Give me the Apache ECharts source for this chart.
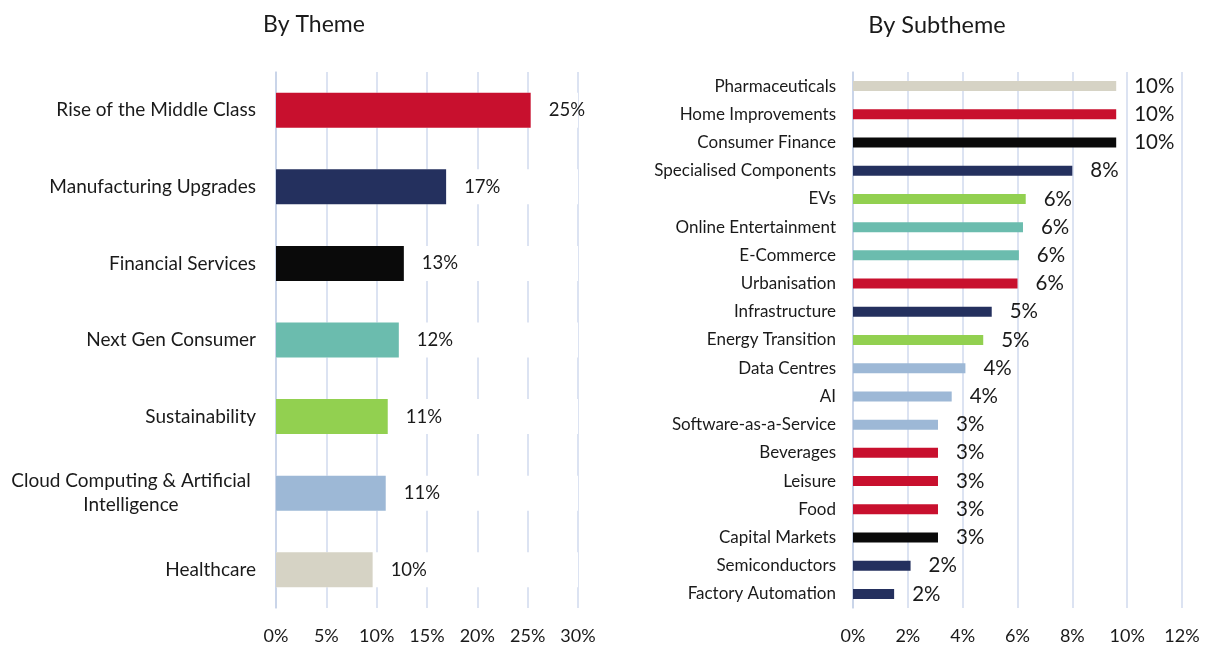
<!DOCTYPE html>
<html>
<head>
<meta charset="utf-8">
<script src="https://cdn.jsdelivr.net/npm/echarts@6/dist/echarts.min.js"></script>
<style>
  html, body { margin: 0; padding: 0; background: #fff; }
  #chart { width: 1205px; height: 645px; }
</style>
</head>
<body>
<div id="chart"></div>
<script>
// colours used by both charts
const RED = '#C8102E'
const NAVY = '#24305E'
const BLACK = '#0A0A0A'
const TEAL = '#6BBCAE'
const GREEN = '#92D050'
const LIGHTBLUE = '#9DB8D6'
const BEIGE = '#D6D3C5'

// left chart: by theme
const themeNames = ['Rise of the Middle Class', 'Manufacturing Upgrades', 'Financial Services',
  'Next Gen Consumer', 'Sustainability', 'Cloud Computing & Artificial Intelligence', 'Healthcare']
const themeValues = [25.3, 16.9, 12.7, 12.2, 11.1, 10.9, 9.6]
const themeColors = [RED, NAVY, BLACK, TEAL, GREEN, LIGHTBLUE, BEIGE]
const themeTicks = { min: 0, max: 30, interval: 5 }

// right chart: by subtheme
const subNames = ['Pharmaceuticals', 'Home Improvements', 'Consumer Finance', 'Specialised Components',
  'EVs', 'Online Entertainment', 'E-Commerce', 'Urbanisation', 'Infrastructure', 'Energy Transition',
  'Data Centres', 'AI', 'Software-as-a-Service', 'Beverages', 'Leisure', 'Food', 'Capital Markets',
  'Semiconductors', 'Factory Automation']
const subValues = [9.6, 9.6, 9.6, 8.0, 6.3, 6.2, 6.05, 6.0, 5.06, 4.75, 4.1, 3.6, 3.1, 3.1, 3.1, 3.1, 3.1, 2.1, 1.5]
const subColors = [BEIGE, RED, BLACK, NAVY, GREEN, TEAL, TEAL, RED, NAVY, GREEN,
  LIGHTBLUE, LIGHTBLUE, LIGHTBLUE, RED, RED, RED, BLACK, NAVY, NAVY]
const subTicks = { min: 0, max: 12, interval: 2 }

const FONT = 'Lato'
const TEXT = '#1a1a1a'
const GRIDLINE = '#D0DAEE'

const myChart = echarts.init(document.getElementById('chart'))

const option = {
  animation: false,
  title: [
    { text: 'By Theme', left: 309, top: 8, textAlign: 'center',
      textStyle: { fontFamily: FONT, fontSize: 23, fontWeight: 'normal', color: TEXT } },
    { text: 'By Subtheme', left: 932, top: 8, textAlign: 'center',
      textStyle: { fontFamily: FONT, fontSize: 23.5, fontWeight: 'normal', color: TEXT } },
  ],
  grid: [
    { left: 276, top: 72, width: 302, height: 536 },
    { left: 853, top: 72, width: 329, height: 536 },
  ],
  xAxis: [
    {
      gridIndex: 0, type: 'value', ...themeTicks,
      axisLine: { show: false }, axisTick: { show: false },
      splitLine: { lineStyle: { color: GRIDLINE, width: 1.5 } },
      axisLabel: { formatter: '{value}%', margin: 19, fontFamily: FONT, fontSize: 18, color: TEXT },
    },
    {
      gridIndex: 1, type: 'value', ...subTicks,
      axisLine: { show: false }, axisTick: { show: false },
      splitLine: { lineStyle: { color: GRIDLINE, width: 1.5 } },
      axisLabel: { formatter: '{value}%', margin: 19, fontFamily: FONT, fontSize: 18, color: TEXT },
    },
  ],
  yAxis: [
    {
      gridIndex: 0, type: 'category', data: themeNames, inverse: true,
      axisLine: { lineStyle: { color: '#C5D0E6', width: 1.5 } },
      axisTick: { length: 5, lineStyle: { color: '#C5D0E6', width: 1.5 } },
      axisLabel: {
        margin: 20, fontFamily: FONT, fontSize: 19, color: TEXT,
        formatter: (v) => v.length > 30 ? '{c|Cloud Computing & Artificial}\n{c|Intelligence}' : v,
        rich: { c: { width: 250, align: 'center', fontFamily: FONT, fontSize: 19, color: TEXT, lineHeight: 24 } },
      },
    },
    {
      gridIndex: 1, type: 'category', data: subNames, inverse: true,
      axisLine: { lineStyle: { color: '#C5D0E6', width: 1.5 } },
      axisTick: { length: 5, lineStyle: { color: '#C5D0E6', width: 1.5 } },
      axisLabel: { margin: 17, fontFamily: FONT, fontSize: 17, color: TEXT },
    },
  ],
  series: [
    {
      type: 'bar', xAxisIndex: 0, yAxisIndex: 0, barWidth: 35,
      data: themeValues.map((v, i) => ({ value: v, itemStyle: { color: themeColors[i] } })),
      showBackground: true,
      backgroundStyle: { color: '#fff' },
      label: {
        show: true, position: 'right', distance: 18,
        formatter: (p) => Math.round(p.value) + '%',
        fontFamily: FONT, fontSize: 18.5, color: TEXT,
      },
    },
    {
      type: 'bar', xAxisIndex: 1, yAxisIndex: 1, barWidth: 10,
      data: subValues.map((v, i) => ({ value: v, itemStyle: { color: subColors[i] } })),
      label: {
        show: true, position: 'right', distance: 18,
        formatter: (p) => Math.round(p.value) + '%',
        fontFamily: FONT, fontSize: 20.5, color: TEXT,
      },
    },
  ],
}

myChart.setOption(option)
</script>
</body>
</html>
